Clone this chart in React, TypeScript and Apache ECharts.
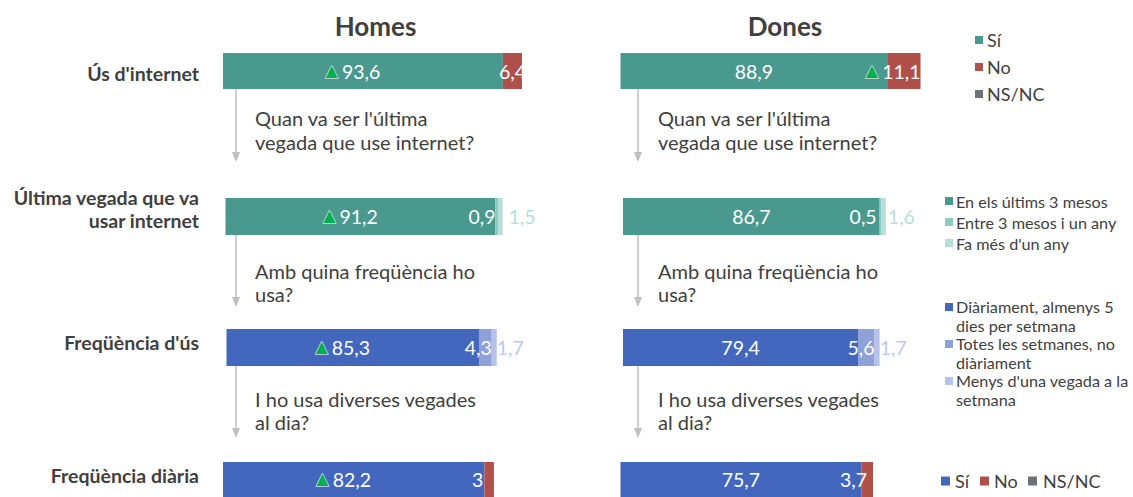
import { useEffect, useRef } from 'react';
import * as echarts from 'echarts';

// ---------- data ----------
const panels = ['Homes', 'Dones'];
const rowLabels = ["Ús d'internet", 'Última vegada que va\nusar internet', "Freqüència d'ús", 'Freqüència diària'];
const questions = [
  "Quan va ser l'última\nvegada que use internet?",
  'Amb quina freqüència ho\nusa?',
  'I ho usa diverses vegades\nal dia?',
];

// Ús d'internet
const usSi = [93.6, 88.9];
const usNo = [6.4, 11.1];
const usNsnc = [0, 0];
// Última vegada que va usar internet
const ultimaTresMesos = [91.2, 86.7];
const ultimaEntre = [0.9, 0.5];
const ultimaFaAny = [1.5, 1.6];
// Freqüència d'ús
const freqDiari = [85.3, 79.4];
const freqSetmanal = [4.3, 5.6];
const freqMenys = [1.7, 1.7];
// Freqüència diària
const diariaSi = [82.2, 75.7];
const diariaNo = [3, 3.7];
const diariaNsnc = [0, 0];

// significant-difference markers (▲)
const sigUsSi = [true, false];
const sigUsNo = [false, true];
const sigUltima = [true, false];
const sigFreq = [true, false];
const sigDiaria = [true, false];

const legendUs = ['Sí', 'No', 'NS/NC'];
const legendUltima = ['En els últims 3 mesos', 'Entre 3 mesos i un any', "Fa més d'un any"];
const legendFreq = ['Diàriament, almenys 5\ndies per setmana', 'Totes les setmanes, no\ndiàriament', "Menys d'una vegada a la\nsetmana"];
const legendDiaria = ['Sí', 'No', 'NS/NC'];

// ---------- style ----------
const TEAL = '#4a998f';
const TEAL2 = '#8ccbc0';
const TEAL3 = '#b5dfd9';
const RED = '#b0504b';
const GRAY = '#6b7378';
const BLUE = '#4467be';
const BLUE2 = '#8ea1d9';
const BLUE3 = '#b5c3ea';
const TXT = '#404040';
const FONT = 'Lato, "Noto Sans", sans-serif';

const rowsLayout = [
  { top: 53, height: 36, left: [223, 620.5], width: [299, 300] },
  { top: 198, height: 37, left: [225.5, 623], width: [296, 296] },
  { top: 329, height: 37, left: [226.5, 623], width: [296, 296] },
  { top: 462, height: 36, left: [223, 620.5], width: [318, 318] },
];

const fmt = (v: number) => String(v).replace('.', ',');

const rich = {
  v: { color: '#fff', fontSize: 19.5, fontFamily: FONT },
  t: { color: '#00b050', fontSize: 16, fontFamily: 'DejaVu Sans', textBorderColor: '#fff', textBorderWidth: 1, padding: [0, 4, 2, 0] },
  l1: { color: TEAL3, fontSize: 19.5, fontFamily: FONT },
  l2: { color: '#bccaee', fontSize: 19.5, fontFamily: FONT },
};

function lbl(v: number, opts: any) {
  const sig = !!opts.sig;
  const style = opts.style || 'v';
  const text = (sig ? '{t|▲}' : '') + '{' + style + '|' + fmt(v) + '}';
  return {
    show: true,
    position: opts.position || 'inside',
    distance: opts.distance ?? 5,
    offset: sig && (opts.position || 'inside') === 'inside' ? [-10, 0] : [0, 0],
    formatter: () => text,
    rich,
  };
}

export default function App() {
  const ref = useRef<HTMLDivElement>(null);

  useEffect(() => {
    document.body.style.margin = '0';
    document.body.style.overflow = 'hidden';
    const chart = echarts.init(ref.current!, undefined, { renderer: 'svg' });

    const grid: any[] = [];
    const xAxis: any[] = [];
    const yAxis: any[] = [];
    const series: any[] = [];

    for (let r = 0; r < 4; r++) {
      for (let p = 0; p < 2; p++) {
        const idx = r * 2 + p;
        const L = rowsLayout[r];
        grid.push({ left: L.left[p], top: L.top, width: L.width[p], height: L.height });
        xAxis.push({ type: 'value', gridIndex: idx, min: 0, max: 100, show: false });
        yAxis.push({ type: 'category', gridIndex: idx, data: [rowLabels[r]], show: false });
      }
    }

    const add = (idx: number, name: string, color: string, value: number, label: any) => {
      series.push({
        type: 'bar',
        name,
        xAxisIndex: idx,
        yAxisIndex: idx,
        stack: 's' + idx,
        barWidth: '100%',
        itemStyle: { color },
        data: [{ value, label: label || { show: false } }],
      });
    };

    for (let p = 0; p < 2; p++) {
      // row 0
      let g = 0 * 2 + p;
      add(g, 'Sí', TEAL, usSi[p], lbl(usSi[p], { sig: sigUsSi[p] }));
      add(g, 'No', RED, usNo[p], lbl(usNo[p], sigUsNo[p] ? { sig: true, position: 'insideRight', distance: 0 } : { position: 'inside' }));
      add(g, 'NS/NC', GRAY, usNsnc[p], null);
      // row 1
      g = 1 * 2 + p;
      add(g, legendUltima[0], TEAL, ultimaTresMesos[p], lbl(ultimaTresMesos[p], { sig: sigUltima[p] }));
      add(g, legendUltima[1], TEAL2, ultimaEntre[p], lbl(ultimaEntre[p], { position: 'left', distance: p === 0 ? 0 : 3 }));
      add(g, legendUltima[2], TEAL3, ultimaFaAny[p], lbl(ultimaFaAny[p], { position: 'right', distance: p === 0 ? 6 : 2, style: 'l1' }));
      // row 2
      g = 2 * 2 + p;
      add(g, legendFreq[0], BLUE, freqDiari[p], lbl(freqDiari[p], { sig: sigFreq[p] }));
      add(g, legendFreq[1], BLUE2, freqSetmanal[p], lbl(freqSetmanal[p], { position: 'insideRight', distance: 0 }));
      add(g, legendFreq[2], BLUE3, freqMenys[p], lbl(freqMenys[p], { position: 'right', distance: 0, style: 'l2' }));
      // row 3
      g = 3 * 2 + p;
      add(g, 'Sí', BLUE, diariaSi[p], lbl(diariaSi[p], { sig: sigDiaria[p] }));
      add(g, 'No', RED, diariaNo[p], lbl(diariaNo[p], p === 0 ? { position: 'left', distance: 1 } : { position: 'insideRight', distance: 6 }));
      add(g, 'NS/NC', GRAY, diariaNsnc[p], null);
    }

    const graphic: any[] = [];
    // titles
    const titleX = [375.5, 785];
    panels.forEach((t, p) => {
      graphic.push({
        type: 'text',
        style: { text: t, x: titleX[p], y: 26, textAlign: 'center', textVerticalAlign: 'middle', font: 'bold 26px ' + FONT, fill: TXT },
      });
    });
    // row labels
    const rowLabelY = [73, 208.5, 342, 475];
    rowLabels.forEach((t, r) => {
      graphic.push({
        type: 'text',
        style: { text: t, x: 199, y: rowLabelY[r], textAlign: 'right', textVerticalAlign: 'middle', font: 'bold 19.5px ' + FONT, fill: TXT, lineHeight: 23 },
      });
    });
    // arrows + questions
    const arrowX = [236, 638];
    const qX = [255, 658];
    const arrows = [[89, 162], [235, 307], [366, 438]];
    const qY = [130, 282, 410.5];
    const qLH = [24, 23, 23];
    for (let p = 0; p < 2; p++) {
      arrows.forEach(([y0, y1], i) => {
        const x = arrowX[p];
        graphic.push({ type: 'line', shape: { x1: x, y1: y0, x2: x, y2: y1 - 8 }, style: { stroke: '#bfbfbf', lineWidth: 1.5 } });
        graphic.push({ type: 'polygon', shape: { points: [[x - 4, y1 - 10], [x + 4, y1 - 10], [x, y1]] }, style: { fill: '#bfbfbf' } });
        graphic.push({
          type: 'text',
          style: { text: questions[i], x: qX[p], y: qY[i], textVerticalAlign: 'middle', font: '20px ' + FONT, fill: TXT, lineHeight: qLH[i] },
        });
      });
    }
    // legends
    const legItem = (x: number, y: number, size: number, color: string, text: string, fontSize: number, tx: number, lh: number) => {
      graphic.push({ type: 'rect', shape: { x, y: y - size / 2, width: size, height: size }, style: { fill: color } });
      const lines = text.split('\n');
      graphic.push({
        type: 'text',
        style: { text, x: tx, y: y - lh / 2, textVerticalAlign: 'middle', font: fontSize + 'px ' + FONT, fill: TXT, lineHeight: lh },
        y: lines.length > 1 ? (lh * (lines.length - 1)) / 2 + lh / 2 : lh / 2,
      });
    };
    const usColors = [TEAL, RED, GRAY];
    legendUs.forEach((t, i) => legItem(975, 40 + i * 27, 8, usColors[i], t, 18, 987, 22));
    const ultColors = [TEAL, TEAL2, TEAL3];
    legendUltima.forEach((t, i) => legItem(945, 201 + i * 21, 8, ultColors[i], t, 16.2, 956, 19));
    const frColors = [BLUE, BLUE2, BLUE3];
    legendFreq.forEach((t, i) => legItem(945, 307 + i * 37, 8, frColors[i], t, 16.2, 956, 18.7));
    const diColors = [BLUE, RED, GRAY];
    const diSq = [941, 980, 1028];
    const diTx = [955, 994, 1043];
    legendDiaria.forEach((t, i) => legItem(diSq[i], 481, 9, diColors[i], t, 18, diTx[i], 22));

    chart.setOption({
      animation: false,
      textStyle: { fontFamily: FONT },
      grid,
      xAxis,
      yAxis,
      series,
      graphic,
    });

    return () => chart.dispose();
  }, []);

  return <div ref={ref} style={{ position: 'absolute', left: 0, top: 0, width: 1133, height: 497, background: '#fff' }} />;
}
